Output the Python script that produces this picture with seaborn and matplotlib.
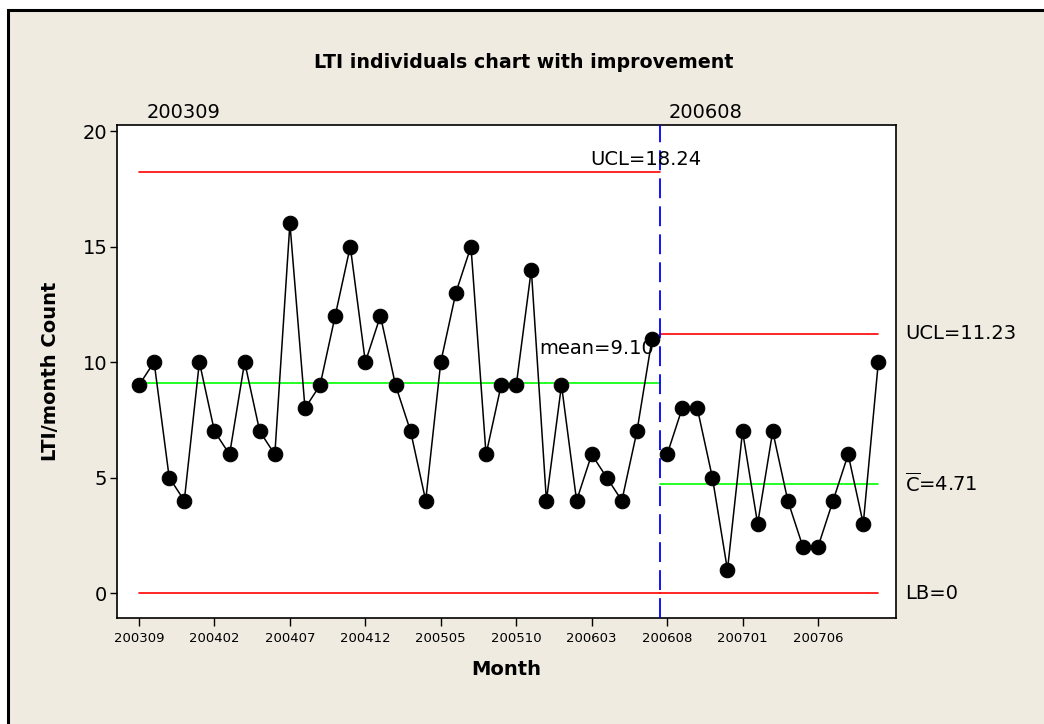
import matplotlib
matplotlib.use("Agg")
import matplotlib.pyplot as plt
from matplotlib.patches import Rectangle
import seaborn as sns
import pandas as pd
import numpy as np

# monthly LTI counts, before and after the improvement
months = [p.strftime("%Y%m") for p in pd.period_range("2003-09", "2007-10", freq="M")]
before = [9, 10, 5, 4, 10, 7, 6, 10, 7, 6, 16, 8, 9, 12, 15, 10, 12, 9, 7, 4,
          10, 13, 15, 6, 9, 9, 14, 4, 9, 4, 6, 5, 4, 7, 11]
after = [6, 8, 8, 5, 1, 7, 3, 7, 4, 2, 2, 4, 6, 3, 10]
stages = ["200309", "200608"]
ucl = [18.24, 11.23]
center = [9.10, 4.71]
lcl = [0, 0]

counts = before + after
df = pd.DataFrame({
    "idx": np.arange(len(counts)),
    "count": counts,
    "stage": [stages[0]] * len(before) + [stages[1]] * len(after),
})

sns.set_style("white")
plt.rcParams["font.family"] = ["DejaVu Sans"]
plt.rcParams.update({"text.color": "black", "axes.labelcolor": "black",
                     "xtick.color": "black", "ytick.color": "black"})

fig = plt.figure(figsize=(10.44, 7.24), dpi=100, facecolor="white")
fig.patches.append(Rectangle((8 / 1044, -0.05), 1.1, 1 - 10 / 724 + 0.05,
                             transform=fig.transFigure, facecolor="#EFEBE1",
                             edgecolor="black", lw=2.2, zorder=-5))
ax = fig.add_axes([117 / 1044, 1 - 618 / 724, (896 - 117) / 1044, (618 - 125) / 724])
ax.set_facecolor("white")

split = len(before) - 0.5
first, last = 0, len(counts) - 1
spans = [(first, split), (split, last)]

# control limits and centre lines per stage
for (x0, x1), u, c, l in zip(spans, ucl, center, lcl):
    ax.plot([x0, x1], [u, u], color="#FF0000", lw=1.2, zorder=2)
    ax.plot([x0, x1], [l, l], color="#FF0000", lw=1.2, zorder=2)
    ax.plot([x0, x1], [c, c], color="#00FF00", lw=1.2, zorder=2)

ax.axvline(split, color="#0000FF", lw=1.3, dashes=(11, 4.5), zorder=3)

sns.lineplot(data=df, x="idx", y="count", units="stage", estimator=None,
             color="black", lw=1.1, marker="o", markersize=10.5,
             markeredgecolor="black", ax=ax, zorder=4)

ax.set_xlim(-1.46, 50.17)
ax.set_ylim(-1.08, 20.26)
ax.set_xticks(df["idx"][::5])
ax.set_xticklabels(months[::5], fontsize=9.5)
ax.set_yticks([0, 5, 10, 15, 20])
ax.tick_params(axis="y", labelsize=14, length=5, width=1, direction="out", pad=2, left=True)
ax.tick_params(axis="x", length=6, width=1, direction="out", pad=4, bottom=True)
for s in ax.spines.values():
    s.set_color("black")
    s.set_linewidth(1.2)

ax.set_xlabel("Month", fontsize=14, fontweight="bold")
ax.set_ylabel("LTI/month Count", fontsize=14, fontweight="bold")
ax.xaxis.set_label_coords(0.5, -0.085)
ax.yaxis.set_label_coords(-0.073, 0.5)

# annotations
ax.text(33.6, ucl[0] + 0.12, f"UCL={ucl[0]:.2f}", fontsize=14, ha="center", va="bottom", zorder=5)
ax.text(30.3, 10.6, f"mean={center[0]:.2f}", fontsize=14, ha="center", va="center", zorder=5)
trans = ax.get_yaxis_transform()
ax.text(1.0116, ucl[1], f"UCL={ucl[1]:.2f}", fontsize=14, ha="left", va="center", transform=trans)
ax.text(1.0116, center[1], r"$\overline{\mathrm{C}}$" + f"={center[1]:.2f}", fontsize=14,
        ha="left", va="center", transform=trans)
ax.text(1.0116, lcl[1], f"LB={lcl[1]}", fontsize=14, ha="left", va="center", transform=trans)
ax.text(0.5, 20.8, stages[0], fontsize=14, ha="left", va="center", clip_on=False)
ax.text(35.1, 20.8, stages[1], fontsize=14, ha="left", va="center", clip_on=False)

fig.text(0.502, 1 - 62 / 724, "LTI individuals chart with improvement",
         fontsize=13.7, fontweight="bold", ha="center", va="center")

fig.savefig("out.png", dpi=100, facecolor=fig.get_facecolor())
